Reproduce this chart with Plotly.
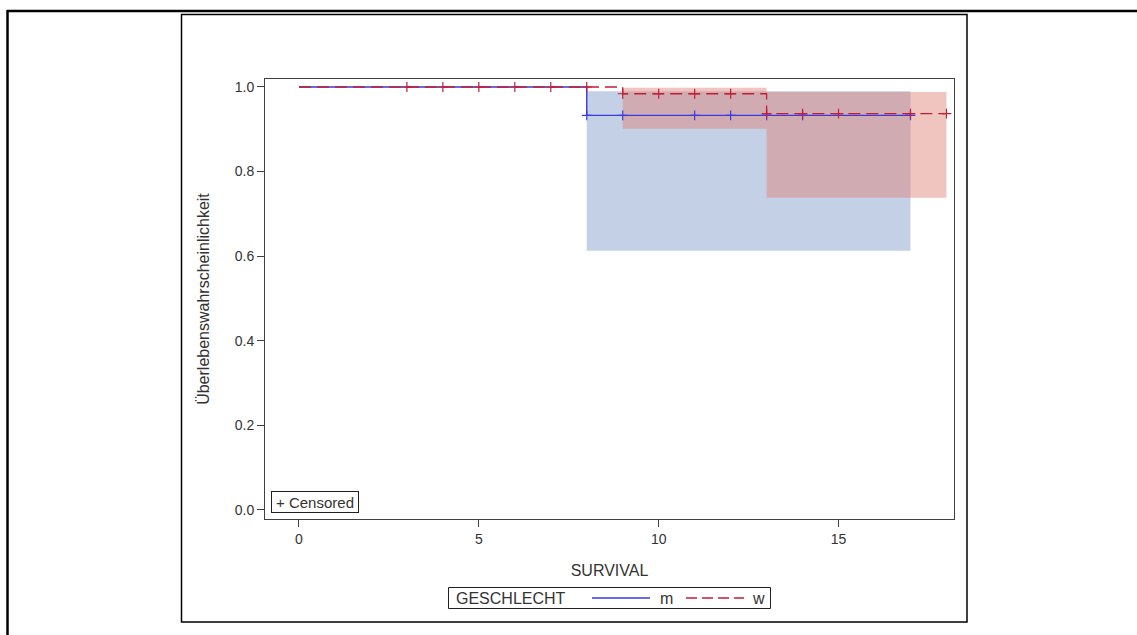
import plotly.graph_objects as go

# Kaplan-Meier estimates by sex (GESCHLECHT)
m_time = [0, 8, 17]
m_surv = [1.0, 0.933, 0.933]
w_time = [0, 9, 13, 18]
w_surv = [1.0, 0.984, 0.937, 0.937]

# pointwise confidence limits (step functions)
m_band_time = [8, 17]
m_lower = [0.613, 0.613]
m_upper = [0.990, 0.990]
w_band_time = [9, 13, 18]
w_lower = [0.901, 0.738, 0.738]
w_upper = [0.998, 0.988, 0.988]

# censoring times
m_cens_time = [8, 9, 11, 12, 13, 14, 17]
w_cens_time = [3, 4, 5, 6, 7, 8, 9, 10, 11, 12, 13, 14, 15, 17, 18]

x_ticks = [0, 5, 10, 15]
y_ticks = [0.0, 0.2, 0.4, 0.6, 0.8, 1.0]

groups = ["m", "w"]
legend_title = "GESCHLECHT"


def surv_at(t, times, surv):
    val = surv[0]
    for ti, si in zip(times, surv):
        if ti <= t:
            val = si
    return val


BLUE = "#3a3ae0"
RED = "#c41d33"
BLUE_FILL = "rgba(130,157,203,0.48)"
RED_FILL = "rgba(224,132,122,0.48)"
RED_DASH = "12px,6px"
FONT = "Liberation Sans, Arial, sans-serif"
TXT = "#333333"

fig = go.Figure()


def add_band(times, lower, upper, color):
    fig.add_trace(go.Scatter(x=times, y=lower, mode="lines", line=dict(width=0, shape="hv"),
                             showlegend=False, hoverinfo="skip"))
    fig.add_trace(go.Scatter(x=times, y=upper, mode="lines", line=dict(width=0, shape="hv"),
                             fill="tonexty", fillcolor=color, showlegend=False, hoverinfo="skip"))


add_band(m_band_time, m_lower, m_upper, BLUE_FILL)
add_band(w_band_time, w_lower, w_upper, RED_FILL)

# survival step curves
fig.add_trace(go.Scatter(x=m_time, y=m_surv, mode="lines", name=groups[0], showlegend=False,
                         line=dict(color=BLUE, width=1.4, shape="hv")))
fig.add_trace(go.Scatter(x=w_time, y=w_surv, mode="lines", name=groups[1], showlegend=False,
                         line=dict(color=RED, width=1.3, shape="hv", dash=RED_DASH)))

# censored observations
fig.add_trace(go.Scatter(x=m_cens_time, y=[surv_at(t, m_time, m_surv) for t in m_cens_time],
                         mode="markers", showlegend=False, hoverinfo="skip",
                         marker=dict(symbol="cross-thin", size=7, line=dict(color=BLUE, width=1.2))))
fig.add_trace(go.Scatter(x=w_cens_time, y=[surv_at(t, w_time, w_surv) for t in w_cens_time],
                         mode="markers", showlegend=False, hoverinfo="skip",
                         marker=dict(symbol="cross-thin", size=7, line=dict(color=RED, width=1.2))))

L, R, T, B = 265, 183, 79, 116
W, H = 1137, 635
pw, ph = W - L - R, H - T - B


def px(xp):
    return (xp - L) / pw


def py(yp):
    return (H - B - yp) / ph


axis_common = dict(showgrid=False, zeroline=False, showline=True, mirror=True,
                   linecolor="#404040", linewidth=1, ticks="outside", ticklen=7,
                   tickcolor="#404040", tickwidth=1,
                   tickfont=dict(family=FONT, size=14, color=TXT))

fig.update_layout(
    width=W, height=H,
    margin=dict(l=L, r=R, t=T, b=B, autoexpand=False),
    paper_bgcolor="white", plot_bgcolor="white",
    font=dict(family=FONT, color=TXT),
    showlegend=False,
    xaxis=dict(range=[-0.945, 18.21], tickvals=x_ticks, ticktext=[str(v) for v in x_ticks],
               title=dict(text="SURVIVAL", font=dict(family=FONT, size=16, color=TXT), standoff=19),
               automargin=False, **axis_common),
    yaxis=dict(range=[-0.0213, 1.0189], tickvals=y_ticks, ticktext=[f"{v:.1f}" for v in y_ticks],
               title=dict(text="Überlebenswahrscheinlichkeit", font=dict(family=FONT, size=16, color=TXT),
                          standoff=21),
               automargin=False, **axis_common),
)

# censoring key inside the plot area
fig.add_annotation(text="+ Censored", xref="paper", yref="paper", x=px(271), y=py(513),
                   xanchor="left", yanchor="bottom", showarrow=False, width=84, height=18,
                   align="center", valign="middle",
                   font=dict(family=FONT, size=15, color=TXT),
                   bordercolor="#202020", borderwidth=1, borderpad=1, bgcolor="white")

# group key below the axis
ly = py(598)
fig.add_shape(type="rect", xref="paper", yref="paper", x0=px(448.5), x1=px(770.5), y0=py(608.5), y1=py(587.5),
              line=dict(color="#202020", width=1), fillcolor="white")
fig.add_annotation(text=legend_title, xref="paper", yref="paper", x=px(454), y=ly, xanchor="left",
                   yanchor="middle", showarrow=False, font=dict(family=FONT, size=16, color=TXT))
fig.add_shape(type="line", xref="paper", yref="paper", x0=px(592), x1=px(650), y0=ly, y1=ly,
              line=dict(color=BLUE, width=1.3))
fig.add_annotation(text=groups[0], xref="paper", yref="paper", x=px(658), y=ly, xanchor="left",
                   yanchor="middle", showarrow=False, font=dict(family=FONT, size=16, color=TXT))
fig.add_shape(type="line", xref="paper", yref="paper", x0=px(686), x1=px(744), y0=ly, y1=ly,
              line=dict(color=RED, width=1.3, dash="11px,5px"))
fig.add_annotation(text=groups[1], xref="paper", yref="paper", x=px(750), y=ly, xanchor="left",
                   yanchor="middle", showarrow=False, font=dict(family=FONT, size=16, color=TXT))

# graph frame and page rules
fig.add_shape(type="rect", xref="paper", yref="paper", x0=px(181.5), x1=px(967), y0=py(622), y1=py(14.5),
              line=dict(color="black", width=1.5), layer="below")
fig.add_shape(type="line", xref="paper", yref="paper", x0=px(7), x1=px(1137), y0=py(11), y1=py(11),
              line=dict(color="black", width=2.5))
fig.add_shape(type="line", xref="paper", yref="paper", x0=px(7.5), x1=px(7.5), y0=py(10), y1=py(640),
              line=dict(color="black", width=2.5))

fig.write_html("out.html")
